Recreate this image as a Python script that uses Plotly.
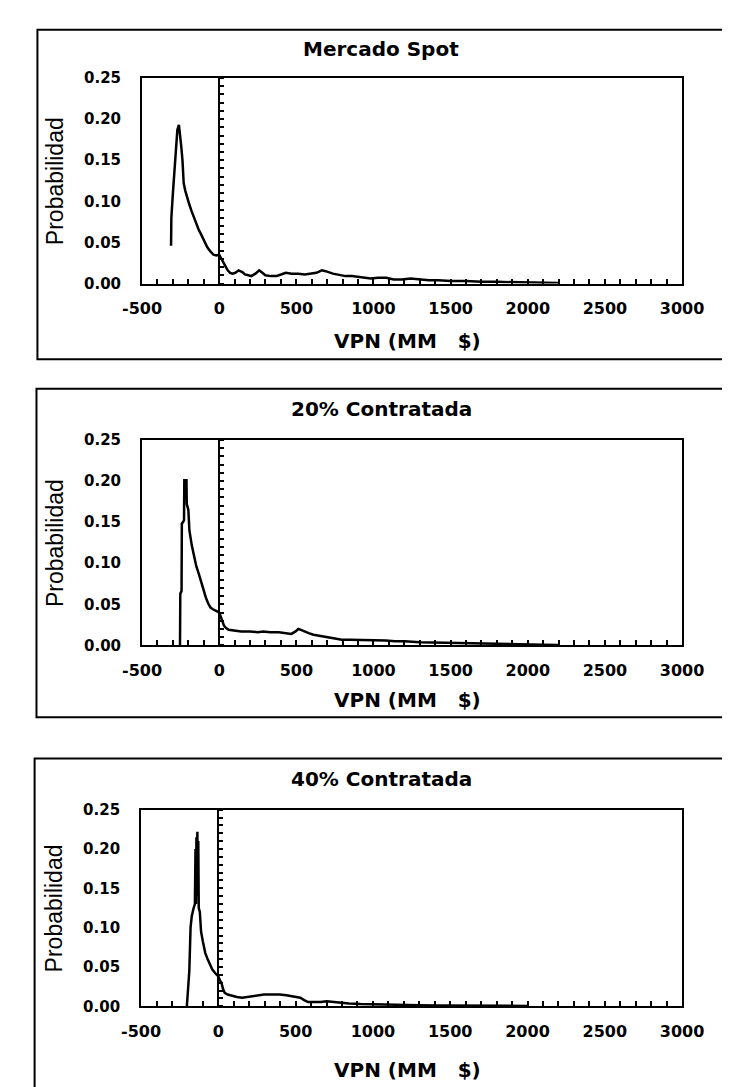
import plotly.graph_objects as go

# ---------------- data ----------------
titles = ["Mercado Spot", "20% Contratada", "40% Contratada"]
x_title = "VPN (MM\u00a0\u00a0\u00a0$)"
y_title = "Probabilidad"

x_tickvals = [-500, 0, 500, 1000, 1500, 2000, 2500, 3000]
x_ticktext = ["-500", "0", "500", "1000", "1500", "2000", "2500", "3000"]
y_tickvals = [0.00, 0.05, 0.10, 0.15, 0.20, 0.25]

spot_x = [-312, -310, -300, -291, -280, -271, -261, -255, -246, -238, -230, -220, -210,
          -195, -179, -164, -149, -134, -118, -100, -77, -57, -37, -18, 0, 12, 24, 40,
          55, 71, 86, 105, 126, 150, 167, 190, 208, 235, 259, 280, 299, 335, 371, 400,
          432, 470, 513, 555, 595, 630, 666, 690, 737, 780, 819, 860, 900, 940, 982,
          1030, 1083, 1130, 1185, 1240, 1300, 1360, 1420, 1500, 1600, 1700, 1800, 1900,
          2000, 2100, 2200]
spot_y = [0.046, 0.080, 0.110, 0.136, 0.160, 0.187, 0.193, 0.185, 0.167, 0.150, 0.122,
          0.113, 0.106, 0.097, 0.088, 0.080, 0.072, 0.066, 0.060, 0.052, 0.044, 0.039,
          0.035, 0.034, 0.035, 0.031, 0.027, 0.021, 0.016, 0.013, 0.012, 0.013, 0.016,
          0.014, 0.011, 0.010, 0.009, 0.012, 0.016, 0.013, 0.010, 0.009, 0.009, 0.011,
          0.013, 0.012, 0.012, 0.011, 0.012, 0.013, 0.016, 0.015, 0.012, 0.010, 0.009,
          0.009, 0.008, 0.007, 0.006, 0.007, 0.007, 0.005, 0.005, 0.006, 0.005, 0.004,
          0.004, 0.003, 0.003, 0.002, 0.002, 0.0015, 0.001, 0.0008, 0.0005]

c20_x = [-254, -252, -244, -242, -228, -226, -212, -210, -200, -193, -178, -163, -148,
         -132, -117, -102, -86, -71, -56, -41, -25, -10, 0, 10, 20, 31, 45, 61, 100, 143,
         200, 250, 285, 330, 387, 430, 468, 495, 513, 530, 550, 580, 611, 660, 713, 760,
         794, 850, 896, 950, 998, 1040, 1079, 1140, 1202, 1300, 1400, 1500, 1600, 1700,
         1800, 1900, 2000, 2100, 2200]
c20_y = [0.0, 0.063, 0.066, 0.148, 0.152, 0.201, 0.201, 0.172, 0.165, 0.140, 0.122,
         0.107, 0.096, 0.087, 0.077, 0.067, 0.058, 0.051, 0.046, 0.044, 0.042, 0.041,
         0.040, 0.036, 0.030, 0.024, 0.021, 0.019, 0.018, 0.017, 0.017, 0.016, 0.017,
         0.016, 0.016, 0.015, 0.014, 0.017, 0.020, 0.019, 0.017, 0.015, 0.013, 0.011,
         0.0096, 0.008, 0.007, 0.007, 0.0068, 0.0068, 0.0068, 0.006, 0.006, 0.005,
         0.005, 0.004, 0.0035, 0.003, 0.0025, 0.002, 0.002, 0.0015, 0.001, 0.0008, 0.0005]

c40_x = [-204, -196, -188, -180, -172, -160, -152, -148, -145, -142, -139, -136, -133,
         -130, -127, -120, -112, -100, -85, -70, -55, -40, -20, 0, 10, 20, 30, 41, 60,
         92, 120, 153, 190, 234, 260, 295, 340, 397, 440, 479, 505, 530, 555, 580, 620,
         662, 700, 743, 800, 845, 920, 1008, 1100, 1212, 1300, 1415, 1550, 1700, 1850,
         2000]
c40_y = [0.0, 0.020, 0.045, 0.100, 0.115, 0.125, 0.130, 0.200, 0.130, 0.215, 0.140,
         0.222, 0.150, 0.210, 0.125, 0.120, 0.095, 0.082, 0.068, 0.060, 0.053, 0.047,
         0.042, 0.038, 0.033, 0.030, 0.022, 0.017, 0.015, 0.013, 0.012, 0.011, 0.012,
         0.014, 0.014, 0.015, 0.015, 0.015, 0.014, 0.013, 0.012, 0.011, 0.008, 0.0054,
         0.0054, 0.0054, 0.0065, 0.0054, 0.0045, 0.0037, 0.003, 0.0025, 0.002, 0.0017,
         0.0014, 0.0012, 0.001, 0.0008, 0.0006, 0.0005]

series = [(spot_x, spot_y), (c20_x, c20_y), (c40_x, c40_y)]

# ---------------- layout (pixel geometry) ----------------
W, H = 730, 1087
X_RANGE = [-500, 3000]
Y_RANGE = [0, 0.25]

panels = [
    dict(plot=(121, 694, 62, 271), box=(10, 745, 13, 348), title_y=33, xt_y=329),
    dict(plot=(121, 694, 430, 639), box=(9, 745, 378, 712), title_y=399, xt_y=694),
    dict(plot=(120, 694, 806, 1006), box=(7, 745, 754, 1100), title_y=775, xt_y=1071),
]


def px(xp):
    return xp / W


def py(yp):
    return 1 - yp / H


tick_font = dict(family="DejaVu Sans", size=16, color="black", weight="bold")
ytick_font = dict(family="DejaVu Sans", size=15, color="black", weight="bold")

fig = go.Figure()
layout = dict(
    width=W, height=H, margin=dict(l=0, r=0, t=0, b=0),
    paper_bgcolor="white", plot_bgcolor="white", showlegend=False,
    shapes=[], annotations=[],
)

for i, ((xs, ys), p) in enumerate(zip(series, panels)):
    n = "" if i == 0 else str(i + 1)
    zn = str(i + 4)
    x0, x1, y0, y1 = p["plot"]
    fig.add_trace(go.Scatter(x=xs, y=ys, mode="lines",
                             line=dict(color="black", width=2.5),
                             xaxis="x" + n, yaxis="y" + n, hoverinfo="skip"))
    # empty trace so the overlaying zero axis gets drawn
    fig.add_trace(go.Scatter(x=[], y=[], mode="lines", xaxis="x" + n, yaxis="y" + zn,
                             hoverinfo="skip"))
    layout["xaxis" + n] = dict(
        domain=[px(x0), px(x1)], anchor="y" + n, range=X_RANGE,
        tickmode="array", tickvals=x_tickvals, ticktext=x_ticktext,
        ticks="inside", ticklen=5, tickwidth=2, tickcolor="black",
        minor=dict(dtick=100, ticks="inside", ticklen=5, tickwidth=2, tickcolor="black"),
        showline=True, linecolor="black", linewidth=2, mirror=True,
        showgrid=False, zeroline=False, tickfont=tick_font, ticklabelstandoff=9,
        fixedrange=True,
    )
    layout["yaxis" + n] = dict(
        domain=[py(y1), py(y0)], anchor="x" + n, range=Y_RANGE,
        tickmode="array", tickvals=y_tickvals, tickformat=".2f",
        ticks="", showline=True, linecolor="black", linewidth=2, mirror=True,
        showgrid=False, zeroline=False, tickfont=ytick_font, ticklabelstandoff=16,
        fixedrange=True,
    )
    # vertical axis drawn at VPN = 0, with small ticks to the right
    zero_pos = px(x0) + (0 - X_RANGE[0]) / (X_RANGE[1] - X_RANGE[0]) * (px(x1) - px(x0))
    layout["yaxis" + zn] = dict(
        overlaying="y" + n, anchor="free", position=zero_pos, side="right",
        range=Y_RANGE, dtick=0.01, ticks="outside", ticklen=4, tickwidth=1.5,
        tickcolor="black", showticklabels=False, showline=True, linecolor="black",
        linewidth=2, showgrid=False, zeroline=False, fixedrange=True,
    )
    bx0, bx1, by0, by1 = p["box"]
    layout["shapes"].append(dict(type="rect", xref="paper", yref="paper",
                                 x0=px(bx0), x1=px(bx1), y0=py(by1), y1=py(by0),
                                 line=dict(color="black", width=2)))
    layout["annotations"].append(dict(
        text="<b>" + titles[i] + "</b>", xref="paper", yref="paper",
        x=px(375), y=py(p["title_y"]), showarrow=False,
        xanchor="center", yanchor="middle",
        font=dict(family="DejaVu Sans", size=20, color="black")))
    layout["annotations"].append(dict(
        text="<b>" + x_title + "</b>", xref="paper", yref="paper",
        x=px(403), y=py(p["xt_y"]), showarrow=False,
        xanchor="center", yanchor="middle",
        font=dict(family="DejaVu Sans", size=20, color="black")))
    layout["annotations"].append(dict(
        text=y_title, xref="paper", yref="paper", textangle=-90,
        x=px(28), y=py((y0 + y1) / 2), showarrow=False,
        xanchor="center", yanchor="middle",
        font=dict(family="Liberation Sans", size=23, color="black")))

fig.update_layout(**layout)
fig.write_html("out.html")
